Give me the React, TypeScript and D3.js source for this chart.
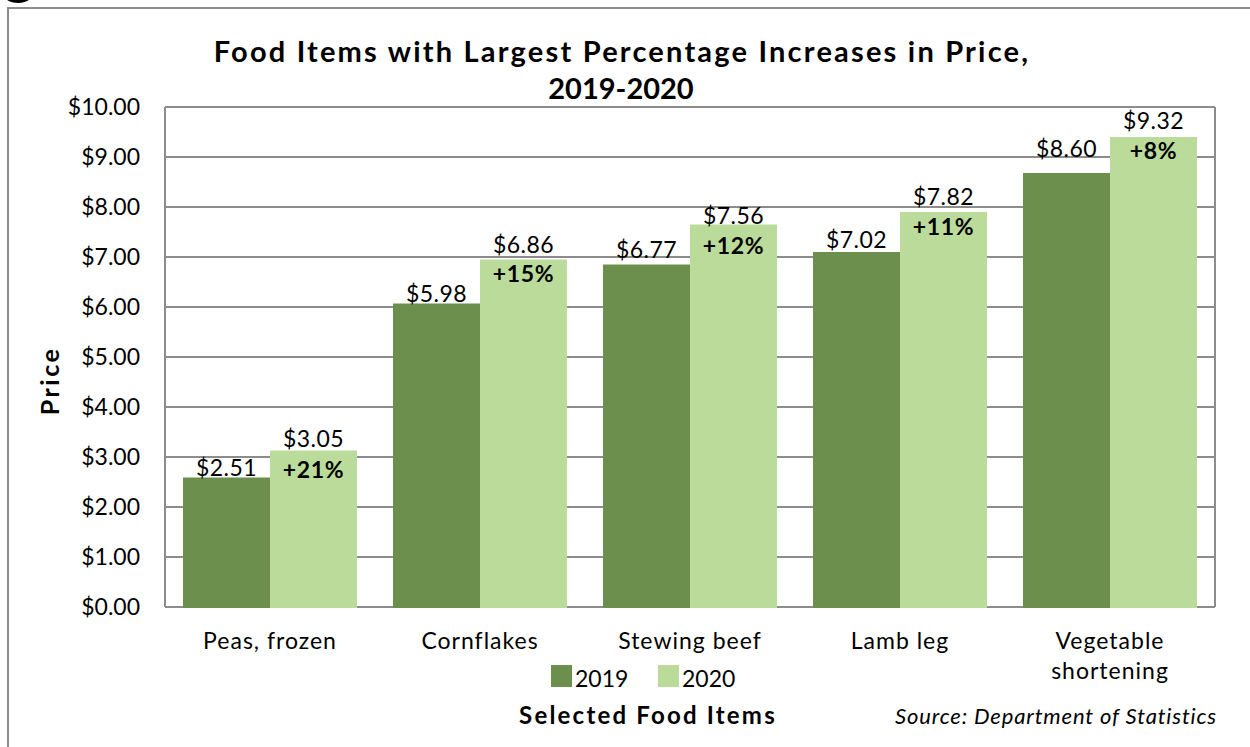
import React from "react";
import * as d3 from "d3";

const categories: string[][] = [["Peas, frozen"], ["Cornflakes"], ["Stewing beef"], ["Lamb leg"], ["Vegetable", "shortening"]];
const seriesNames = ["2019", "2020"];
const values2019 = [2.59, 6.07, 6.85, 7.1, 8.68];
const values2020 = [3.13, 6.95, 7.65, 7.9, 9.4];
const labels2019 = ["$2.51", "$5.98", "$6.77", "$7.02", "$8.60"];
const labels2020 = ["$3.05", "$6.86", "$7.56", "$7.82", "$9.32"];
const pctLabels = ["+21%", "+15%", "+12%", "+11%", "+8%"];
const yTicks = [0, 1, 2, 3, 4, 5, 6, 7, 8, 9, 10];

// label placement tweaks (px)
const lift2019 = [2, 2, 7, 4, 16];
const lift2020 = [4, 7, 1, 7, 8];
const pctDrop = [27, 22, 29, 23, 22];

const W = 1250, H = 747;
const colors = ["#6C8F4E", "#BBDB9B"];
const FONT = "Lato, 'Open Sans', sans-serif";

export default function App() {
  const left = 165, right = 1215, top = 107, bottom = 607;
  const keys = categories.map((c) => c.join(" "));
  const x0 = d3.scaleBand<string>().domain(keys).range([left, right]).paddingInner(36 / 210).paddingOuter(18 / 210);
  const x1 = d3.scaleBand<string>().domain(seriesNames).range([0, x0.bandwidth()]);
  const y = d3.scaleLinear().domain([0, 10]).range([bottom, top]);
  const series = [values2019, values2020];

  return (
    <svg width={W} height={H} style={{ position: "absolute", left: 0, top: 0, background: "#fff" }} fontFamily={FONT}>
      <text x={3} y={-8} fontSize={60} fontWeight="bold" fill="#000">g</text>
      <rect x={8} y={8} width={W + 20} height={H + 20} fill="none" stroke="#8c8c8c" strokeWidth={2} />
      <text x={622} y={62} textAnchor="middle" fontSize={29} fontWeight="bold" letterSpacing={2.2}>Food Items with Largest Percentage Increases in Price,</text>
      <text x={621} y={99} textAnchor="middle" fontSize={29} fontWeight="bold">2019-2020</text>

      {yTicks.map((t) => (
        <g key={t}>
          <line x1={left} x2={right} y1={y(t)} y2={y(t)} stroke="#8c8c8c" strokeWidth={2} />
          <text x={140} y={y(t) + 8} textAnchor="end" fontSize={23}>{"$" + d3.format(".2f")(t)}</text>
        </g>
      ))}
      <line x1={left} x2={left} y1={top} y2={bottom} stroke="#8c8c8c" strokeWidth={2} />
      <line x1={right} x2={right} y1={top} y2={bottom} stroke="#8c8c8c" strokeWidth={2} />

      {keys.map((k, i) => (
        <g key={k}>
          {series.map((vals, s) => (
            <rect key={s} x={(x0(k) as number) + (x1(seriesNames[s]) as number)} y={y(vals[i])} width={x1.bandwidth()} height={y(0) - y(vals[i]) + 1} fill={colors[s]} />
          ))}
          <text x={(x0(k) as number) + (x1("2019") as number) + x1.bandwidth() / 2} y={y(values2019[i]) - lift2019[i]} textAnchor="middle" fontSize={23} letterSpacing={0.4}>{labels2019[i]}</text>
          <text x={(x0(k) as number) + (x1("2020") as number) + x1.bandwidth() / 2} y={y(values2020[i]) - lift2020[i]} textAnchor="middle" fontSize={23} letterSpacing={0.4}>{labels2020[i]}</text>
          <text x={(x0(k) as number) + (x1("2020") as number) + x1.bandwidth() / 2} y={y(values2020[i]) + pctDrop[i]} textAnchor="middle" fontSize={23} fontWeight="bold" letterSpacing={0.6}>{pctLabels[i]}</text>
          {categories[i].map((line, j) => (
            <text key={j} x={(x0(k) as number) + x0.bandwidth() / 2} y={649 + j * 30} textAnchor="middle" fontSize={23} letterSpacing={1}>{line}</text>
          ))}
        </g>
      ))}

      <text transform={`translate(59,381) rotate(-90)`} textAnchor="middle" fontSize={25} fontWeight="bold" letterSpacing={2.5}>Price</text>

      {seriesNames.map((n, s) => (
        <g key={n} transform={`translate(${551 + s * 107},665)`}>
          <rect x={0} y={0} width={21} height={22} fill={colors[s]} />
          <text x={24} y={22} fontSize={23}>{n}</text>
        </g>
      ))}

      <text x={648} y={724} textAnchor="middle" fontSize={24} fontWeight="bold" letterSpacing={2.2}>Selected Food Items</text>
      <text x={1217} y={724} textAnchor="end" fontSize={22} fontStyle="italic" letterSpacing={0.85}>Source: Department of Statistics</text>
    </svg>
  );
}
